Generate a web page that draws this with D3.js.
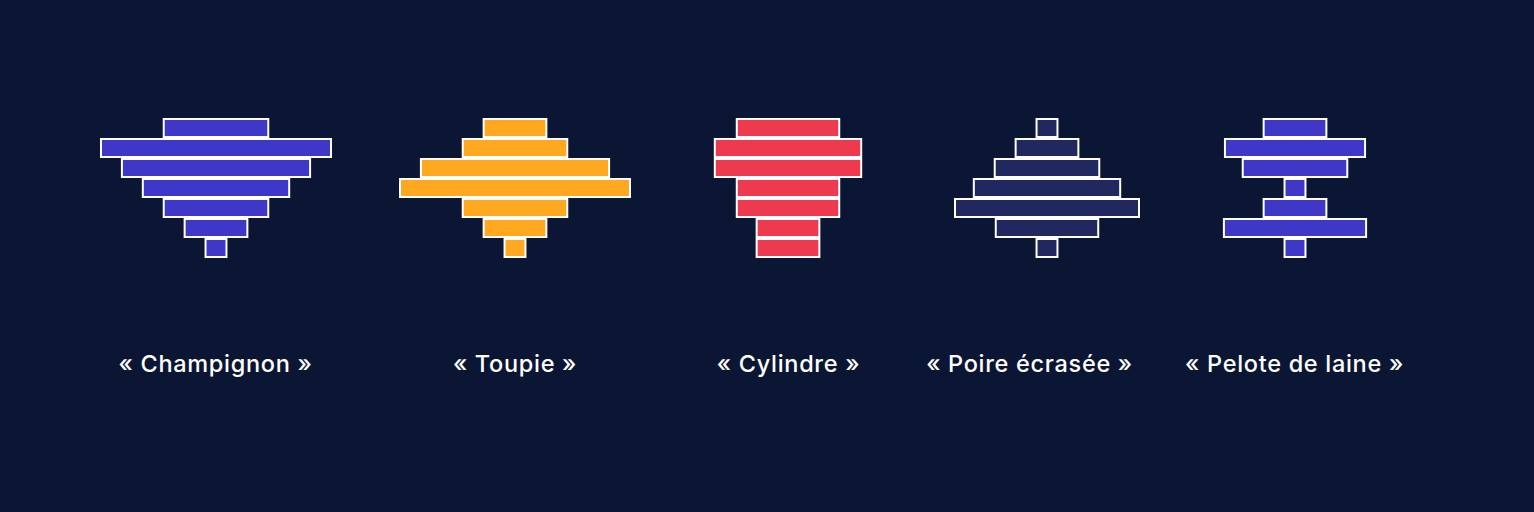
<!DOCTYPE html>
<html>
<head>
<meta charset="utf-8">
<script src="https://cdn.jsdelivr.net/npm/d3@7"></script>
<style>
  html, body { margin: 0; padding: 0; background: #0b1634; }
  svg { display: block; }
</style>
</head>
<body>
<svg id="chart" width="1534" height="512"></svg>
<script>
// ---- data ----
const shapes = ["« Champignon »", "« Toupie »", "« Cylindre »", "« Poire écrasée »", "« Pelote de laine »"];
const levels = [1, 2, 3, 4, 5, 6, 7];
const champignon = [5, 11, 9, 7, 5, 3, 1];
const toupie = [3, 5, 9, 11, 5, 3, 1];
const cylindre = [4.9, 7, 7, 4.9, 4.9, 3, 3];
const poire = [1, 3, 5, 7, 8.8, 4.9, 1];
const pelote = [3, 6.7, 5, 1, 3, 6.8, 1];
const seriesValues = [champignon, toupie, cylindre, poire, pelote];

// ---- layout / style ----
const fills = ["#3e37c7", "#ffa820", "#ee3a4f", "#21285f", "#3e37c7"];
const shapeCenters = [216, 515, 788, 1047, 1295];
const labelCenters = [215.5, 515, 788.5, 1029.5, 1294.5];

const svg = d3.select("#chart");
svg.append("rect").attr("width", 1534).attr("height", 512).attr("fill", "#0b1634");

const y = d3.scaleBand().domain(levels).range([118, 258]).padding(0);
const w = d3.scaleLinear().domain([0, 11]).range([0, 230]);

const groups = svg.selectAll("g.shape")
  .data(shapes.map((name, i) => ({ name, i, values: seriesValues[i] })))
  .join("g")
  .attr("class", "shape");

groups.each(function (g) {
  const sel = d3.select(this);
  const cx = shapeCenters[g.i];
  sel.selectAll("rect")
    .data(g.values.map((v, j) => ({ v, level: levels[j] })))
    .join("rect")
    .attr("x", d => cx - w(d.v) / 2)
    .attr("y", d => y(d.level) + 1)
    .attr("width", d => w(d.v))
    .attr("height", y.bandwidth() - 2)
    .attr("fill", fills[g.i])
    .attr("stroke", "#ffffff")
    .attr("stroke-width", 2);

  sel.append("text")
    .attr("x", labelCenters[g.i])
    .attr("y", 372)
    .attr("text-anchor", "middle")
    .attr("fill", "#ffffff")
    .attr("font-family", "Inter, 'Noto Sans', sans-serif")
    .attr("font-weight", 500)
    .attr("font-size", 23.5)
    .attr("letter-spacing", 0.7)
    .text(g.name);
});
</script>
</body>
</html>
